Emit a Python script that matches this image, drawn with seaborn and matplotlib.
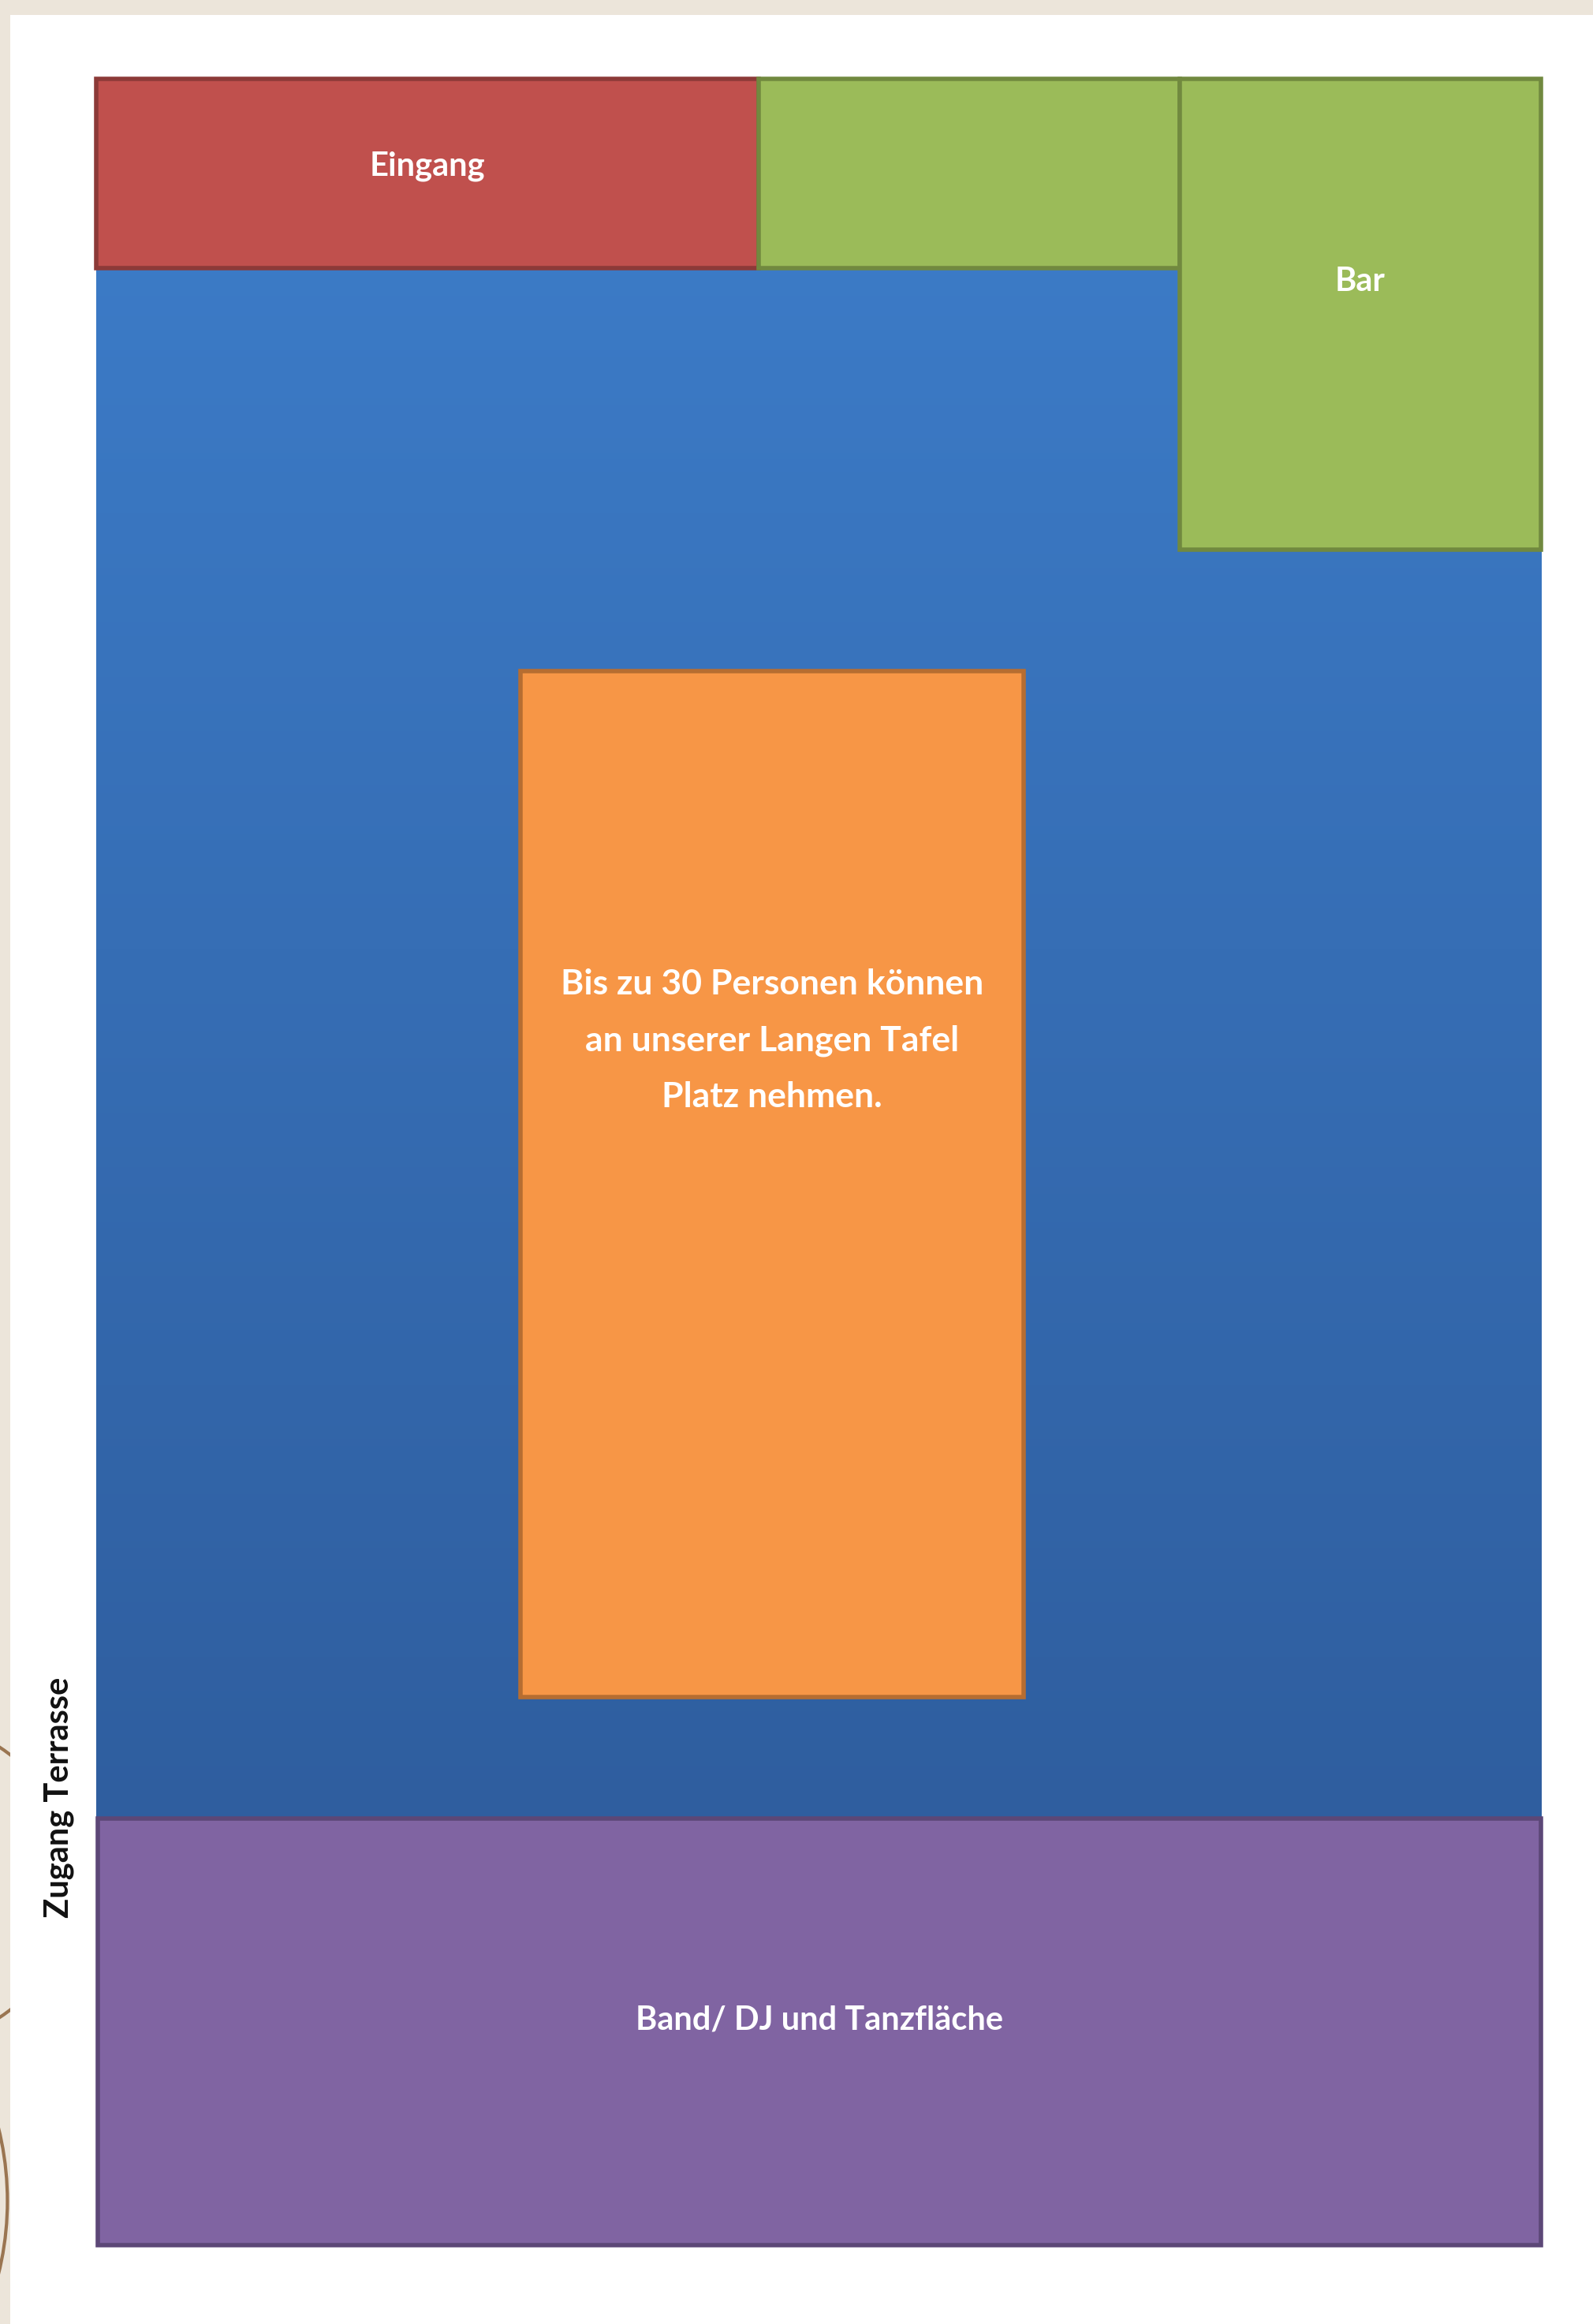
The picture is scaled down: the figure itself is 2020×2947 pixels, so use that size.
import numpy as np
import matplotlib
matplotlib.use("Agg")
import matplotlib.pyplot as plt
from matplotlib.colors import LinearSegmentedColormap
from matplotlib.patches import Circle
import seaborn as sns

# floor plan of the room, plan units (0..1075 wide, 0..1568 deep, y from top)
rooms = ["Eingang", "", "Bar", "Bis zu 30 Personen können\nan unserer Langen Tafel\nPlatz nehmen.",
         "Band/ DJ und Tanzfläche"]
room_left = [65, 512, 796, 351, 66]
room_right = [512, 796, 1040, 691, 1040]
room_top = [53, 53, 53, 453, 1227]
room_bottom = [181, 181, 371, 1145, 1515]
room_fill = ["#c0504d", "#9bbb59", "#9bbb59", "#f79646", "#8064a2"]
room_edge = ["#8c3a38", "#71893f", "#71893f", "#b66d31", "#5c4777"]
label_y = [112, 112, 190, 702, 1363]
label_size = [30, 30, 30, 32, 30]

hall = [65, 1040, 53, 1228]   # left, right, top, bottom of the blue hall
side_label = "Zugang Terrasse"

sns.set_theme(style="white")
plt.rcParams['font.family'] = ['Lato', 'DejaVu Sans']

fig = plt.figure(figsize=(20.2, 29.47), dpi=100, facecolor="#ece5da")
ax = fig.add_axes([0, 0, 1, 1])
ax.set_facecolor("#ece5da")

# decorative arcs on the beige margin
ax.add_patch(Circle((-60, 1270), 109, fill=False, ec="#9a7551", lw=3, zorder=1))
ax.add_patch(Circle((-200, 1485), 205, fill=False, ec="#9a7551", lw=3, zorder=1))

# white page
ax.bar(7, 1568 - 10, width=1075 - 7, bottom=10, align="edge", color="white", lw=0, zorder=2)

# hall with vertical gradient
blues = LinearSegmentedColormap.from_list("hall", ["#3d7ecb", "#2f5e9f"])
ax.imshow(np.linspace(0, 1, 256).reshape(-1, 1), cmap=blues, aspect="auto",
          extent=(hall[0], hall[1], hall[3], hall[2]), origin="upper", zorder=3)

# rooms as bars
widths = np.array(room_right) - np.array(room_left)
heights = np.array(room_bottom) - np.array(room_top)
ax.bar(room_left, heights, width=widths, bottom=room_top, align="edge",
       color=room_fill, edgecolor=room_edge, linewidth=4, zorder=4)

for i, name in enumerate(rooms):
    if name:
        ax.text((room_left[i] + room_right[i]) / 2, label_y[i], name, color="white",
                fontsize=label_size[i], fontweight="bold", ha="center", va="center",
                linespacing=1.95, zorder=5)

ax.text(40, 1213, side_label, rotation=90, color="#111111", fontsize=30,
        fontweight="bold", ha="center", va="center", zorder=5)

ax.set_xlim(0, 1075)
ax.set_ylim(1568, 0)
ax.axis("off")

fig.savefig("out.png", dpi=100, facecolor=fig.get_facecolor())
